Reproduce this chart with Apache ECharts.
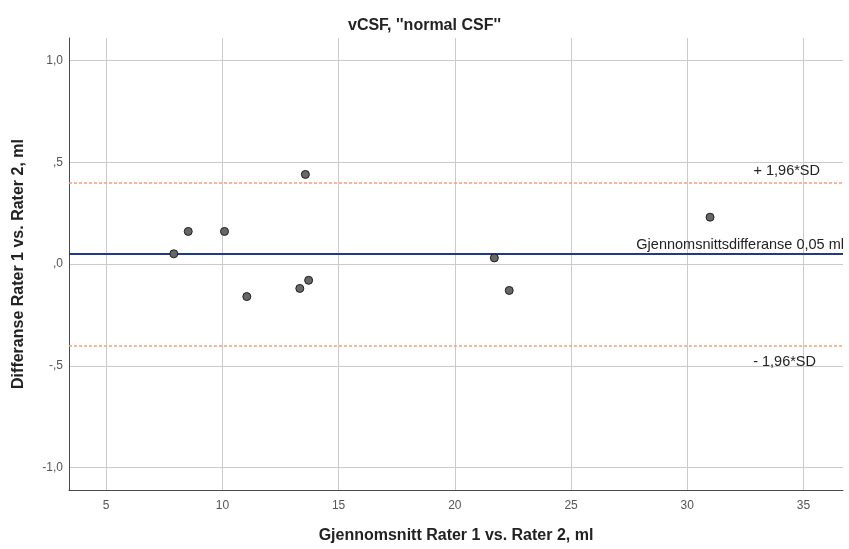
<!DOCTYPE html>
<html>
<head>
<meta charset="utf-8">
<script src="https://cdn.jsdelivr.net/npm/echarts@6/dist/echarts.min.js"></script>
<style>
  html, body { margin: 0; padding: 0; background: #fff; }
  #chart { width: 849px; height: 549px; }
</style>
</head>
<body>
<div id="chart"></div>
<script>
// Bland-Altman plot: mean of the two raters vs. their difference (ml)
const meanValues = [7.91, 8.53, 10.09, 11.05, 13.33, 13.57, 13.71, 21.70, 22.34, 30.98];
const diffValues = [0.05, 0.16, 0.16, -0.16, -0.12, 0.44, -0.08, 0.03, -0.13, 0.23];

const meanDiff = 0.05;
const upperLimit = 0.40;
const lowerLimit = -0.40;

const xTicks = [5, 10, 15, 20, 25, 30, 35];
const yTicks = [-1.0, -0.5, 0.0, 0.5, 1.0];
const yTickLabels = ['-1,0', '-,5', ',0', ',5', '1,0'];

const xRange = [3.4, 36.7];
const yRange = [-1.11, 1.11];

const chart = echarts.init(document.getElementById('chart'), null, { renderer: 'canvas' });

const font = 'Liberation Sans, Arial, sans-serif';
const gridColor = '#cacaca';
const limitStyle = { color: '#f5a07c', width: 1.5, type: [3, 2] };

chart.setOption({
  backgroundColor: '#ffffff',
  animation: false,
  title: {
    text: 'vCSF, \'\'normal CSF\'\'',
    left: 'center',
    top: 13,
    textStyle: { fontFamily: font, fontSize: 16, fontWeight: 'bold', color: '#222' }
  },
  grid: { left: 69, right: 6, top: 38, bottom: 59 },
  xAxis: {
    type: 'value',
    min: xRange[0],
    max: xRange[1],
    name: 'Gjennomsnitt Rater 1 vs. Rater 2, ml',
    nameLocation: 'middle',
    nameGap: 38,
    nameTextStyle: { fontFamily: font, fontSize: 16, fontWeight: 'bold', color: '#222' },
    axisLine: { show: true, onZero: false, lineStyle: { color: '#4a4a4a', width: 1 } },
    axisTick: { show: false, customValues: xTicks },
    axisLabel: {
      customValues: xTicks,
      margin: 10,
      fontFamily: font, fontSize: 12, color: '#555',
      formatter: v => String(v)
    },
    splitLine: { show: true, lineStyle: { color: gridColor, width: 1 } }
  },
  yAxis: {
    type: 'value',
    min: yRange[0],
    max: yRange[1],
    name: 'Differanse Rater 1 vs. Rater 2, ml',
    nameLocation: 'middle',
    nameGap: 42,
    nameTextStyle: { fontFamily: font, fontSize: 16, fontWeight: 'bold', color: '#222' },
    axisLine: { show: true, onZero: false, lineStyle: { color: '#4a4a4a', width: 1 } },
    axisTick: { show: false, customValues: yTicks },
    axisLabel: {
      customValues: yTicks,
      margin: 6,
      fontFamily: font, fontSize: 12, color: '#555',
      formatter: v => {
        const i = yTicks.findIndex(t => Math.abs(t - v) < 1e-9);
        return i >= 0 ? yTickLabels[i] : '';
      }
    },
    splitLine: { show: true, lineStyle: { color: gridColor, width: 1 } }
  },
  series: [{
    type: 'scatter',
    data: meanValues.map((m, i) => [m, diffValues[i]]),
    symbol: 'circle',
    symbolSize: 8,
    itemStyle: { color: '#676767', borderColor: '#1e1e1e', borderWidth: 1, opacity: 1 },
    z: 5,
    markLine: {
      silent: true,
      symbol: 'none',
      animation: false,
      data: [
        {
          yAxis: upperLimit,
          lineStyle: limitStyle,
          label: { show: true, position: 'insideEndTop', distance: [23, 4], formatter: '+ 1,96*SD' }
        },
        {
          yAxis: meanDiff,
          lineStyle: { color: '#1f3a8a', width: 2, type: 'solid' },
          label: { show: true, position: 'insideEndTop', distance: [-1, 1], formatter: 'Gjennomsnittsdifferanse 0,05 ml' }
        },
        {
          yAxis: lowerLimit,
          lineStyle: limitStyle,
          label: { show: true, position: 'insideEndBottom', distance: [27, 9], formatter: '- 1,96*SD' }
        }
      ],
      label: { fontFamily: font, fontSize: 14.5, color: '#222' }
    }
  }]
});
</script>
</body>
</html>
